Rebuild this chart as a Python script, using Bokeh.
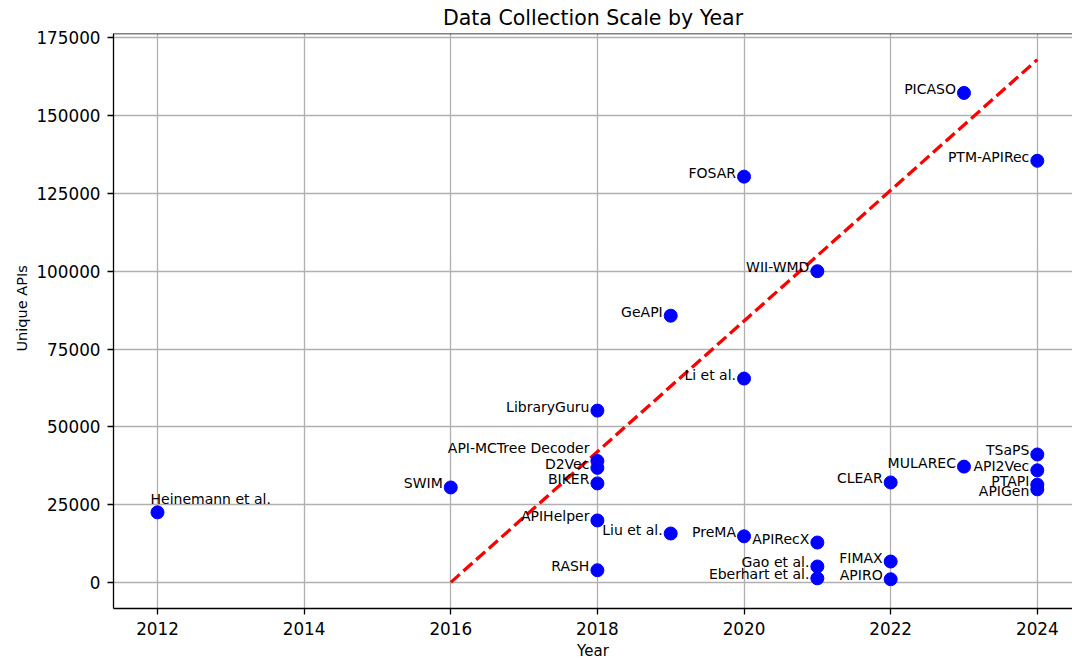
from bokeh.plotting import figure
from bokeh.models import ColumnDataSource, LabelSet, Title, Span, FixedTicker, Range1d, BasicTickFormatter
from bokeh.core.properties import value
from bokeh.embed import file_html
from bokeh.resources import INLINE

# API recommendation approaches: publication year and number of unique APIs collected
names = [
    "Heinemann et al.", "SWIM", "LibraryGuru", "API-MCTree Decoder", "D2Vec", "BIKER",
    "APIHelper", "RASH", "GeAPI", "Liu et al.", "FOSAR", "Li et al.", "PreMA",
    "WII-WMD", "APIRecX", "Gao et al.", "Eberhart et al.", "CLEAR", "FIMAX", "APIRO",
    "PICASO", "MULAREC", "PTM-APIRec", "TSaPS", "API2Vec", "PTAPI", "APIGen",
]
years = [
    2012, 2016, 2018, 2018, 2018, 2018,
    2018, 2018, 2019, 2019, 2020, 2020, 2020,
    2021, 2021, 2021, 2021, 2022, 2022, 2022,
    2023, 2023, 2024, 2024, 2024, 2024, 2024,
]
unique_apis = [
    22500, 30500, 55200, 39000, 36800, 31800,
    19900, 3900, 85700, 15700, 130400, 65500, 14800,
    100000, 12800, 5100, 1300, 32100, 6700, 1000,
    157300, 37200, 135500, 41100, 36000, 31400, 29900,
]

# Linear trend line across the collection scale
trend_years = [2016, 2024]
trend_values = [0, 168000]

x_ticks = [2012, 2014, 2016, 2018, 2020, 2022, 2024]
y_ticks = [0, 25000, 50000, 75000, 100000, 125000, 150000, 175000]

FONT = "DejaVu Sans"

# label placement (screen pixels): default sits to the left of the marker
label_align = {n: "right" for n in names}
label_dx = {n: -8 for n in names}
label_dy = {n: 4 for n in names}
label_align["Heinemann et al."] = "left"
label_dx["Heinemann et al."] = -7
label_dy["Heinemann et al."] = 13
label_dy["API-MCTree Decoder"] = 13
label_dy["APIGen"] = -2

src = ColumnDataSource(dict(
    x=years, y=unique_apis, name=names,
    align=[label_align[n] for n in names],
    dx=[label_dx[n] for n in names],
    dy=[label_dy[n] for n in names],
))

p = figure(
    width=1072, height=662,
    x_range=Range1d(2011.4, 2024.48),
    y_range=Range1d(-8400, 176400),
    output_backend="svg", toolbar_location=None,
    min_border_left=113, min_border_right=0, min_border_top=33, min_border_bottom=53,
    title="Data Collection Scale by Year",
)
p.outline_line_color = None
p.background_fill_color = "white"
p.border_fill_color = "white"

p.title.align = "center"
p.title.offset = 5
p.title.text_font = FONT
p.title.text_font_size = "20.5px"
p.title.text_font_style = "normal"
p.title.text_color = "black"
p.title.standoff = 7

for ax in (p.xaxis[0], p.yaxis[0]):
    ax.axis_line_color = "black"
    ax.axis_line_width = 1.3
    ax.major_tick_line_color = "black"
    ax.major_tick_line_width = 1.3
    ax.major_tick_out = 6
    ax.major_tick_in = 0
    ax.minor_tick_line_color = None
    ax.major_label_text_font = FONT
    ax.major_label_text_font_size = "16.8px"
    ax.major_label_text_color = "black"
    ax.axis_label_text_font = FONT
    ax.axis_label_text_font_size = "15px"
    ax.axis_label_text_font_style = "normal"
    ax.axis_label_text_color = "black"

p.xaxis[0].ticker = FixedTicker(ticks=x_ticks)
p.yaxis[0].ticker = FixedTicker(ticks=y_ticks)
p.yaxis[0].formatter = BasicTickFormatter(use_scientific=False)
p.xaxis[0].axis_label = "Year"
p.xaxis[0].major_label_standoff = 7
p.xaxis[0].axis_label_standoff = 4
p.yaxis[0].major_label_standoff = 7

# y-axis title as a side title, starting 257 px above the frame bottom
p.add_layout(Title(
    text="Unique APIs", align="left", offset=257, standoff=8,
    text_font=FONT, text_font_size="14.5px", text_font_style="normal",
    text_color="black",
), "left")

p.xgrid.ticker = FixedTicker(ticks=x_ticks)
p.ygrid.ticker = FixedTicker(ticks=y_ticks)
for g in (p.xgrid[0], p.ygrid[0]):
    g.grid_line_color = "#b0b0b0"
    g.grid_line_width = 1.3

# top spine
p.add_layout(Span(location=176400, dimension="width", line_color="black", line_width=1.3))

p.line(trend_years, trend_values, line_color="red", line_width=3.3, line_dash="12 5")
p.scatter("x", "y", source=src, size=13, fill_color="blue", line_color="blue")

labels = LabelSet(
    x="x", y="y", text="name", source=src,
    x_offset="dx", y_offset="dy", text_align="align", text_baseline="middle",
    text_font=value(FONT), text_font_size="14px", text_color="black",
)
p.add_layout(labels)

open("out.html", "w").write(file_html(p, INLINE))
